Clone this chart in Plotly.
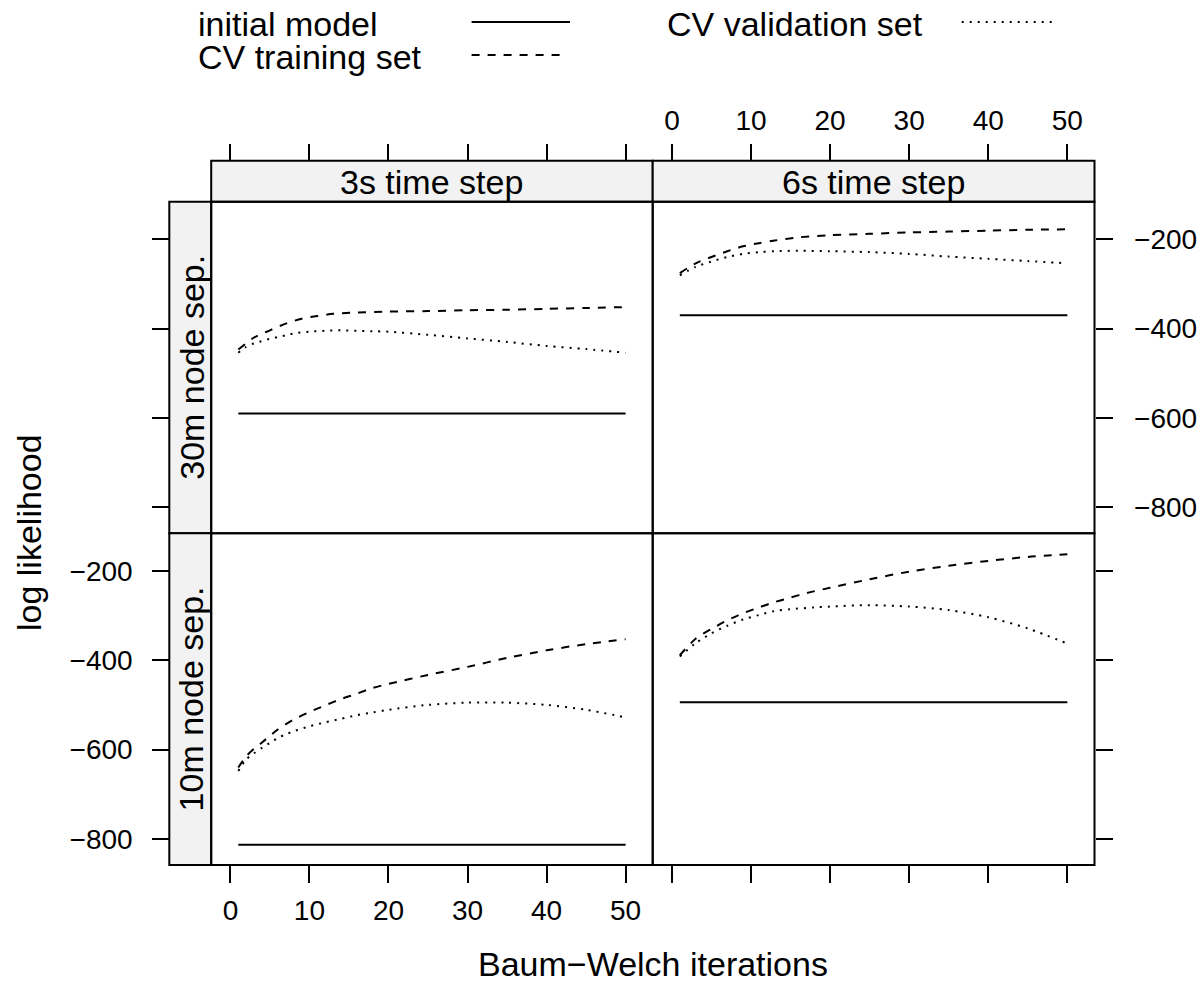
import plotly.graph_objects as go

W, H = 1199, 986
FONT = "Liberation Sans, Arial, sans-serif"

# ---------------- data ----------------
time_steps = ["3s time step", "6s time step"]
node_seps = ["30m node sep.", "10m node sep."]
x_ticks = [0, 10, 20, 30, 40, 50]
x_ticktext = ["0", "10", "20", "30", "40", "50"]
y_ticks = [-200, -400, -600, -800]
y_ticktext = ["\u2212200", "\u2212400", "\u2212600", "\u2212800"]
legend_labels = ["initial model", "CV training set", "CV validation set"]
x_title = "Baum\u2212Welch iterations"
y_title = "log likelihood"

init_x = [1, 50]
init_3s_30m = [-590, -590]
init_6s_30m = [-370, -370]
init_3s_10m = [-813, -813]
init_6s_10m = [-494, -494]

tr_3s_30m_x = [1, 3, 5, 7, 9, 11, 13, 16, 20, 25, 30, 35, 40, 45, 50]
tr_3s_30m_y = [-447, -420, -404, -389, -378, -372, -367, -364, -362, -361, -359, -358, -356, -354, -352]
va_3s_30m_x = [1, 2, 3, 4, 5, 6, 7, 8, 10, 12, 14, 16, 18, 20, 25, 30, 35, 40, 45, 50]
va_3s_30m_y = [-454, -441, -433, -428, -423, -419, -415, -411, -407, -405, -404, -405, -406, -407, -414, -422, -430, -439, -446, -454]

tr_6s_30m_x = [1, 3, 5, 7, 9, 11, 13, 16, 20, 25, 30, 35, 40, 45, 50]
tr_6s_30m_y = [-276, -254, -240, -227, -216, -209, -203, -196, -191, -188, -185, -183, -181, -179, -178]
va_6s_30m_x = [1, 3, 5, 7, 9, 11, 13, 16, 20, 25, 30, 35, 40, 45, 50]
va_6s_30m_y = [-281, -262, -250, -240, -233, -229, -227, -226, -227, -229, -233, -239, -244, -249, -254]

tr_3s_10m_x = [1, 2, 3, 4, 6, 8, 10, 12, 14, 16, 18, 20, 25, 30, 35, 40, 45, 50]
tr_3s_10m_y = [-640, -615, -598, -584, -555, -533, -516, -501, -487, -475, -462, -453, -433, -415, -395, -378, -364, -353]
va_3s_10m_x = [1, 2, 3, 4, 5, 6, 7, 8, 10, 12, 14, 16, 18, 20, 25, 30, 35, 40, 45, 50]
va_3s_10m_y = [-648, -622, -608, -596, -585, -574, -566, -559, -548, -539, -531, -523, -517, -511, -500, -495, -495, -500, -511, -528]

tr_6s_10m_x = [1, 3, 5, 7, 9, 11, 13, 15, 17, 20, 25, 30, 35, 40, 45, 50]
tr_6s_10m_y = [-389, -352, -330, -311, -295, -282, -270, -260, -250, -238, -219, -202, -189, -178, -169, -163]
va_6s_10m_x = [1, 3, 5, 7, 9, 11, 13, 15, 18, 20, 25, 30, 35, 40, 45, 50]
va_6s_10m_y = [-392, -362, -340, -323, -309, -299, -290, -286, -282, -280, -277, -280, -288, -304, -329, -363]

# ---------------- layout helpers ----------------
def fx(px):
    return px / W

def fy(py):
    return 1 - py / H

COL_X = [(211.2, 652.7), (652.7, 1094.5)]
ROW_Y = [(201.7, 533.3), (533.3, 865.0)]
STRIP_TOP = 160.7
STRIP_LEFT = 169.3
XR = [-2.43, 53.43]
YR = [-858.1, -116.2]

DASH_TR = "8px,8px"
DASH_VA = "2px,6px"
LW = 2
TXT = 34
TICK = 28

fig = go.Figure()

panels = [
    (0, 0, "", init_3s_30m, tr_3s_30m_x, tr_3s_30m_y, va_3s_30m_x, va_3s_30m_y),
    (0, 1, "2", init_6s_30m, tr_6s_30m_x, tr_6s_30m_y, va_6s_30m_x, va_6s_30m_y),
    (1, 0, "3", init_3s_10m, tr_3s_10m_x, tr_3s_10m_y, va_3s_10m_x, va_3s_10m_y),
    (1, 1, "4", init_6s_10m, tr_6s_10m_x, tr_6s_10m_y, va_6s_10m_x, va_6s_10m_y),
]

for r, c, s, ini, trx, trv, vax, vav in panels:
    xa, ya = "x" + s, "y" + s
    fig.add_trace(go.Scatter(x=init_x, y=ini, mode="lines", xaxis=xa, yaxis=ya,
                             line=dict(color="black", width=LW), showlegend=False, hoverinfo="skip"))
    fig.add_trace(go.Scatter(x=trx, y=trv, mode="lines", xaxis=xa, yaxis=ya,
                             line=dict(color="black", width=LW, dash=DASH_TR, shape="spline", smoothing=0.8),
                             showlegend=False, hoverinfo="skip"))
    fig.add_trace(go.Scatter(x=vax, y=vav, mode="lines", xaxis=xa, yaxis=ya,
                             line=dict(color="black", width=LW, dash=DASH_VA, shape="spline", smoothing=0.8),
                             showlegend=False, hoverinfo="skip"))

tickfont = dict(family=FONT, size=TICK, color="black")

def xaxis_cfg(col, side, pos, labels):
    return dict(domain=[fx(COL_X[col][0]), fx(COL_X[col][1])], range=XR, anchor="free",
                position=pos, side=side, ticks="outside", ticklen=17, tickwidth=2, tickcolor="black",
                tickvals=x_ticks, ticktext=x_ticktext, showticklabels=labels, tickfont=tickfont,
                showgrid=False, zeroline=False, showline=False, fixedrange=True, ticklabelstandoff=3)

def yaxis_cfg(row, side, pos, labels, standoff):
    return dict(domain=[fy(ROW_Y[row][1]), fy(ROW_Y[row][0])], range=YR, anchor="free",
                position=pos, side=side, ticks="outside", ticklen=17, tickwidth=2, tickcolor="black",
                tickvals=y_ticks, ticktext=y_ticktext, showticklabels=labels, tickfont=tickfont,
                showgrid=False, zeroline=False, showline=False, fixedrange=True,
                ticklabelstandoff=standoff)

layout = dict(
    width=W, height=H, margin=dict(l=0, r=0, t=0, b=0),
    paper_bgcolor="white", plot_bgcolor="white", showlegend=False,
    font=dict(family=FONT, color="black"),
    xaxis=xaxis_cfg(0, "top", fy(STRIP_TOP), False),
    yaxis=yaxis_cfg(0, "left", fx(STRIP_LEFT), False, 14),
    xaxis2=xaxis_cfg(1, "top", fy(STRIP_TOP), True),
    yaxis2=yaxis_cfg(0, "right", fx(COL_X[1][1]), True, 16),
    xaxis3=xaxis_cfg(0, "bottom", fy(ROW_Y[1][1]), True),
    yaxis3=yaxis_cfg(1, "left", fx(STRIP_LEFT), True, 14),
    xaxis4=xaxis_cfg(1, "bottom", fy(ROW_Y[1][1]), False),
    yaxis4=yaxis_cfg(1, "right", fx(COL_X[1][1]), False, 16),
)
fig.update_layout(**layout)

shapes = []
annotations = []
STRIP_FILL = "#F2F2F2"
border = dict(color="black", width=2)

for c in range(2):
    x0, x1 = COL_X[c]
    shapes.append(dict(type="rect", xref="paper", yref="paper", x0=fx(x0), x1=fx(x1),
                       y0=fy(ROW_Y[0][0]), y1=fy(STRIP_TOP), fillcolor=STRIP_FILL, line=border, layer="below"))
    annotations.append(dict(text=time_steps[c], xref="paper", yref="paper",
                            x=fx((x0 + x1) / 2), y=fy((STRIP_TOP + ROW_Y[0][0]) / 2 + 1),
                            showarrow=False, xanchor="center", yanchor="middle",
                            font=dict(family=FONT, size=TXT, color="black")))
for r in range(2):
    y0, y1 = ROW_Y[r]
    shapes.append(dict(type="rect", xref="paper", yref="paper", x0=fx(STRIP_LEFT), x1=fx(COL_X[0][0]),
                       y0=fy(y1), y1=fy(y0), fillcolor=STRIP_FILL, line=border, layer="below"))
    annotations.append(dict(text=node_seps[r], xref="paper", yref="paper",
                            x=fx((STRIP_LEFT + COL_X[0][0]) / 2 + 1), y=fy((y0 + y1) / 2),
                            showarrow=False, xanchor="center", yanchor="middle", textangle=-90,
                            font=dict(family=FONT, size=TXT, color="black")))
for r in range(2):
    for c in range(2):
        shapes.append(dict(type="rect", xref="paper", yref="paper",
                           x0=fx(COL_X[c][0]), x1=fx(COL_X[c][1]),
                           y0=fy(ROW_Y[r][1]), y1=fy(ROW_Y[r][0]),
                           line=border, fillcolor="rgba(0,0,0,0)", layer="above"))

key_items = [
    (legend_labels[0], 196, 24, 471.6, 570, None),
    (legend_labels[1], 196, 57, 471.6, 562, DASH_TR),
    (legend_labels[2], 665, 24, 961.7, 1053, DASH_VA),
]
for lab, tx, ty, lx0, lx1, dsh in key_items:
    annotations.append(dict(text=lab, xref="paper", yref="paper", x=fx(tx), y=fy(ty),
                            showarrow=False, xanchor="left", yanchor="middle",
                            font=dict(family=FONT, size=TXT, color="black")))
    ln = dict(color="black", width=LW)
    if dsh:
        ln["dash"] = dsh
    shapes.append(dict(type="line", xref="paper", yref="paper", x0=fx(lx0), x1=fx(lx1),
                       y0=fy(ty - 2), y1=fy(ty - 2), line=ln))

annotations.append(dict(text=x_title, xref="paper", yref="paper", x=fx(653), y=fy(964),
                        showarrow=False, xanchor="center", yanchor="middle",
                        font=dict(family=FONT, size=TXT, color="black")))
annotations.append(dict(text=y_title, xref="paper", yref="paper", x=fx(29), y=fy(533),
                        showarrow=False, xanchor="center", yanchor="middle", textangle=-90,
                        font=dict(family=FONT, size=TXT, color="black")))

fig.update_layout(shapes=shapes, annotations=annotations)
fig.write_html("out.html",
               config={"displayModeBar": False, "staticPlot": True},
               post_script="document.body.style.margin='0';document.body.style.overflow='hidden';")
